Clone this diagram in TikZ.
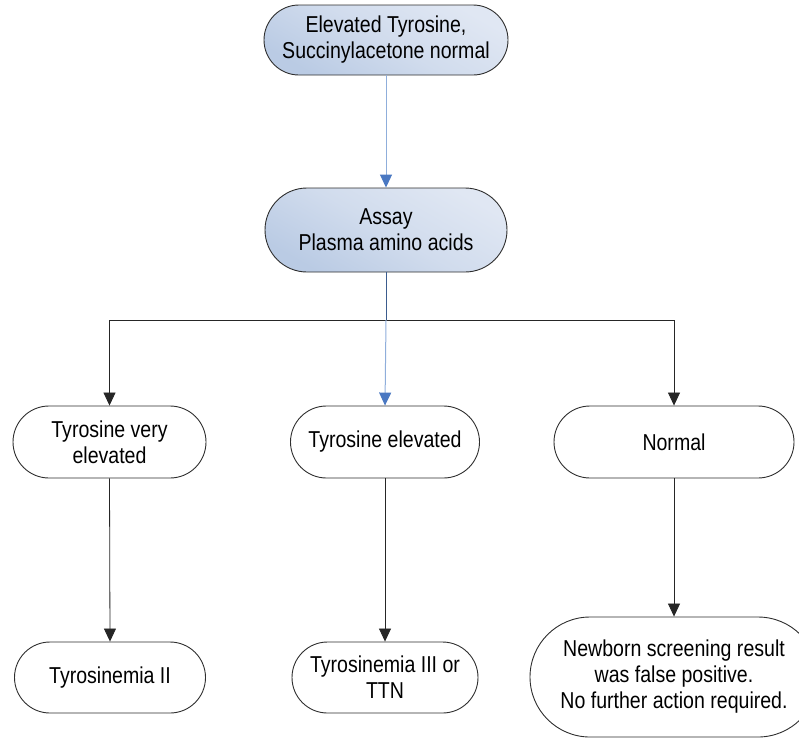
\documentclass[tikz,border=0pt]{standalone}
\usepackage{fontspec}
\setmainfont[FakeStretch=0.85]{Liberation Sans}
\usetikzlibrary{arrows.meta}
\definecolor{shadeLight}{HTML}{E0E7F3}
\definecolor{shadeDark}{HTML}{BACBE4}
\definecolor{edgeGray}{HTML}{2E2E2E}
\definecolor{lineBlue}{HTML}{8FAEDB}
\definecolor{headBlue}{HTML}{4A78C2}
\definecolor{stemBlue}{HTML}{3B5C8E}
\tikzset{
  term/.style={draw=edgeGray, line width=0.9pt, align=center, inner sep=0pt,
    text=black},
  shaded/.style={top color=shadeLight, bottom color=shadeDark, middle color=shadeLight!60!shadeDark, shading angle=-30},
  conn/.style={draw=black!85, line width=0.8pt},
  arr/.style={conn, -{Triangle[width=12pt,length=13pt]}},
  barr/.style={draw=lineBlue, line width=1pt, -{Triangle[width=12pt,length=13pt,color=headBlue]}},
}
\begin{document}
\begin{tikzpicture}[x=1pt,y=-1pt, font=\fontsize{23}{26}\selectfont]
\useasboundingbox (0,0) rectangle (799,737);
\clip (0,0) rectangle (799,737);

% top level
\node[term, shaded, minimum width=244pt, minimum height=70pt, rounded corners=35pt] (top) at (386,40) {Elevated Tyrosine,\\Succinylacetone normal};
\node[term, shaded, minimum width=242pt, minimum height=84pt, rounded corners=42pt] (assay) at (386,230) {Assay\\Plasma amino acids};

% level 2
\node[term, minimum width=193pt, minimum height=72pt, rounded corners=36pt] (vhigh) at (109.5,442) {Tyrosine very\\elevated};
\node[term, minimum width=189pt, minimum height=72pt, rounded corners=36pt] (high) at (385,442) {Tyrosine elevated};
\node[term, minimum width=240pt, minimum height=72pt, rounded corners=36pt] (norm) at (674,442) {Normal};

% level 3
\node[term, minimum width=191pt, minimum height=71pt, rounded corners=35.5pt] (tyr2) at (110,677.5) {Tyrosinemia II};
\node[term, minimum width=186pt, minimum height=71pt, rounded corners=35.5pt] (tyr3) at (385,677.5) {Tyrosinemia III or\\TTN};
\node[term, minimum width=288pt, minimum height=120pt, rounded corners=60pt] (fp) at (674,677) {Newborn screening result\\was false positive.\\No further action required.};

% connectors
\draw[barr] (top.south) -- (assay.north);
\coordinate (mid) at (386,320);
\coordinate (bl) at (109.5,320);
\coordinate (br) at (674,320);
\draw[draw=stemBlue, line width=1pt] (assay.south) -- (mid);
\draw[conn] (bl) -- (br);
\draw[arr] (bl) -- (vhigh.north);
\draw[arr] (br) -- (norm.north);
\draw[barr] (mid) -- (high.north);
\draw[arr] (vhigh.south) -- (tyr2.north);
\draw[arr] (high.south) -- (tyr3.north);
\draw[arr] (norm.south) -- (fp.north);
\end{tikzpicture}
\end{document}
